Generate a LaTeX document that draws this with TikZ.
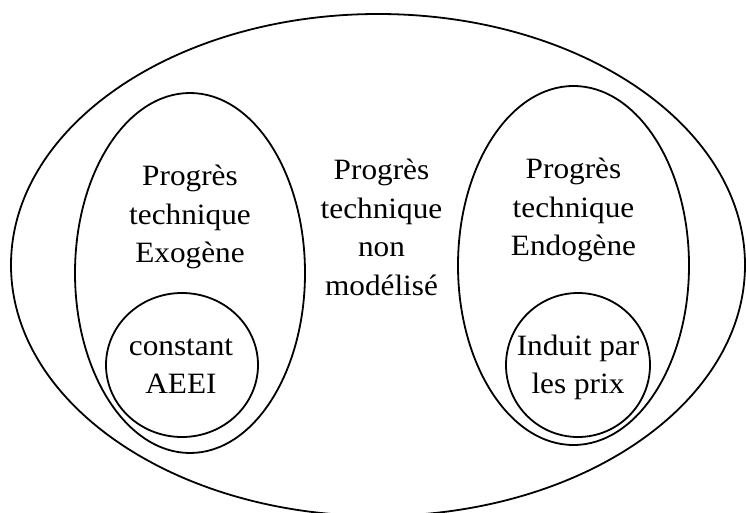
\documentclass[tikz,border=0pt]{standalone}
\usepackage{fontspec}
\setmainfont{Liberation Serif}
\usetikzlibrary{shapes.geometric}
\begin{document}
\begin{tikzpicture}[x=1pt,y=-1pt,
  oval/.style={draw=black, line width=1.8pt, ellipse, inner sep=0pt, outer sep=0pt},
  lbl/.style={align=center, inner sep=0pt, xscale=1.06,
    font=\fontsize{29.5}{38.5}\selectfont}]
\useasboundingbox (0,0) rectangle (746,513);
\node[oval, minimum width=734pt, minimum height=502pt] (outer) at (378,265) {};
\node[oval, minimum width=230pt, minimum height=360pt] (exo) at (190,273) {};
\node[oval, minimum width=231pt, minimum height=359pt] (endo) at (573.5,265.5) {};
\node[oval, minimum width=152pt, minimum height=144pt] (aeei) at (182,365) {};
\node[oval, minimum width=144pt, minimum height=144pt] (prix) at (578,365) {};
\node[lbl] (texo) at (190,217) {Progrès\\technique\\Exogène};
\node[lbl] (tnon) at (381.5,227.5) {Progrès\\technique\\non\\modélisé};
\node[lbl] (tendo) at (573.5,210) {Progrès\\technique\\Endogène};
\node[lbl] (taeei) at (181,366) {constant\\AEEI};
\node[lbl] (tprix) at (578,367.5) {Induit par\\les prix};
\end{tikzpicture}
\end{document}
